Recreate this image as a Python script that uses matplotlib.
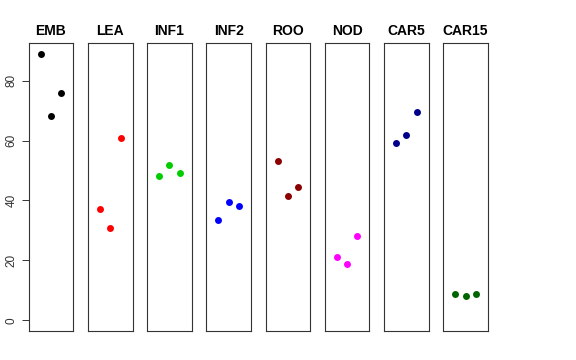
import numpy as np
import matplotlib
matplotlib.use("Agg")
import matplotlib.pyplot as plt

plt.rcParams["font.family"] = ["Liberation Sans", "DejaVu Sans"]

### data ###
groups = ["EMB", "LEA", "INF1", "INF2", "ROO", "NOD", "CAR5", "CAR15"]
colors = ["black", "red", "#00CD00", "blue", "#8B0000", "magenta", "#00008B", "#006400"]
reps = [1, 2, 3]
emb = [88.9, 68.1, 76.0]
lea = [37.3, 30.7, 60.7]
inf1 = [48.3, 51.7, 49.3]
inf2 = [33.4, 39.5, 38.1]
roo = [53.2, 41.6, 44.4]
nod = [21.3, 18.8, 28.3]
car5 = [59.2, 61.9, 69.5]
car15 = [8.9, 8.2, 8.9]
values = [emb, lea, inf1, inf2, roo, nod, car5, car15]
yticks = [0, 20, 40, 60, 80]
#############

W, H = 576, 360
fig = plt.figure(figsize=(W / 100, H / 100), dpi=100)

ymax = max(max(v) for v in values)
ylo, yhi = 0 - 0.04 * ymax, ymax * 1.04

left0, pitch, pw = 28.7, 59.23, 44.6
bottom, top = 331.0, 43.3

for i, (name, col, vals) in enumerate(zip(groups, colors, values)):
    x0 = left0 + i * pitch
    ax = fig.add_axes([x0 / W, (H - bottom) / H, pw / W, (bottom - top) / H])
    ax.plot(reps, vals, "o", color=col, markersize=5, markeredgewidth=0)
    ax.set_xlim(-0.16, 4.16)
    ax.set_ylim(ylo, yhi)
    ax.set_xticks([])
    ax.set_title(name, fontsize=10, fontweight="bold", pad=6)
    for s in ax.spines.values():
        s.set_linewidth(0.8)
        s.set_color("#333333")
    if i == 0:
        ax.set_yticks(yticks)
        ax.tick_params(axis="y", length=5, width=0.7, pad=3, labelsize=8.5,
                       colors="#333333")
        for lab in ax.get_yticklabels():
            lab.set_rotation(90)
            lab.set_va("center")
    else:
        ax.set_yticks([])

fig.savefig("out.png", dpi=100)
